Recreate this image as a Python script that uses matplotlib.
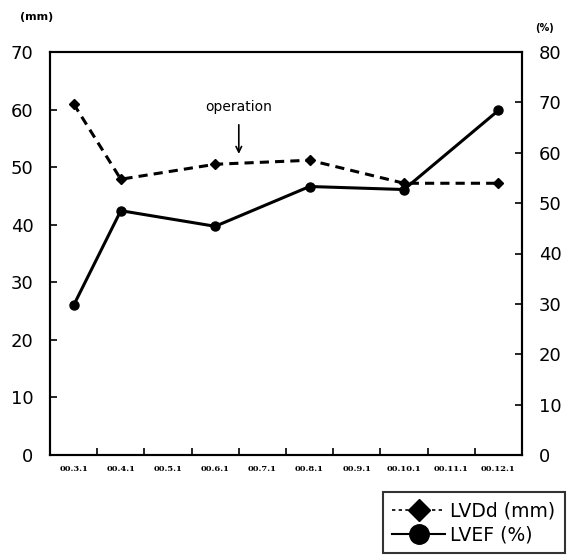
import matplotlib.pyplot as plt
from matplotlib.lines import Line2D

plt.rcParams['font.family'] = ['DejaVu Sans']

# Data
months = ['00.3.1', '00.4.1', '00.5.1', '00.6.1', '00.7.1',
          '00.8.1', '00.9.1', '00.10.1', '00.11.1', '00.12.1']
meas_idx = [0, 1, 3, 5, 7, 9]
lvdd = [61.0, 47.9, 50.5, 51.2, 47.2, 47.2]   # mm, left axis
lvef = [29.7, 48.5, 45.4, 53.3, 52.7, 68.4]   # %, right axis
op_pos = 3.5
op_level = 52.3

fig = plt.figure(figsize=(5.68, 5.57), dpi=100)
ax = fig.add_axes([50/568, 1 - 455/557, 472/568, 403/557])
ax2 = ax.twinx()

ax.plot(meas_idx, lvdd, color='black', linestyle=(0, (3, 2)), linewidth=2.2,
        marker='D', markersize=5.5)
ax2.plot(meas_idx, lvef, color='black', linestyle='-', linewidth=2.2,
         marker='o', markersize=6.5)

ax.set_xlim(-0.5, 9.5)
ax.set_ylim(0, 70)
ax2.set_ylim(0, 80)
ax.set_yticks(range(0, 71, 10))
ax2.set_yticks(range(0, 81, 10))

ax.set_xticks(range(len(months)))
ax.set_xticklabels(months, fontsize=6, fontweight='bold', family='DejaVu Serif')
ax.set_xticks([i + 0.5 for i in range(len(months) - 1)], minor=True)
ax.tick_params(axis='x', which='major', length=0, pad=7)
ax.tick_params(axis='x', which='minor', direction='in', length=5, width=1.2)
ax.tick_params(axis='y', direction='in', length=5, width=1.2, labelsize=13, pad=12)
ax2.tick_params(axis='y', direction='in', length=5, width=1.2, labelsize=13, pad=12)

for a in (ax, ax2):
    for s in a.spines.values():
        s.set_linewidth(1.5)

ax.annotate('operation', xy=(op_pos, op_level), xytext=(op_pos, 60.5),
            ha='center', va='center', fontsize=10,
            arrowprops=dict(arrowstyle='->', color='black', lw=1.2,
                            shrinkA=6, shrinkB=0))

fig.text(20/568, 1 - 17/557, '(mm)', fontsize=8, fontweight='bold', va='center')
fig.text(545/568, 1 - 28/557, '(%)', fontsize=7, fontweight='bold', va='center',
         ha='center')

handles = [
    Line2D([], [], color='black', linestyle=(0, (2, 2)), linewidth=1.2,
           marker='D', markersize=11),
    Line2D([], [], color='black', linestyle='-', linewidth=1.5,
           marker='o', markersize=14),
]
leg = fig.legend(handles, ['LVDd (mm)', 'LVEF (%)'], loc='upper left',
                 bbox_to_anchor=(383/568, 1 - 492/557), fontsize=13.5,
                 frameon=True, fancybox=False, edgecolor='black',
                 handlelength=2.8, handletextpad=0.3, borderpad=0.5,
                 labelspacing=0.25, borderaxespad=0)
leg.get_frame().set_linewidth(1.5)

fig.savefig('out.png', dpi=100)
